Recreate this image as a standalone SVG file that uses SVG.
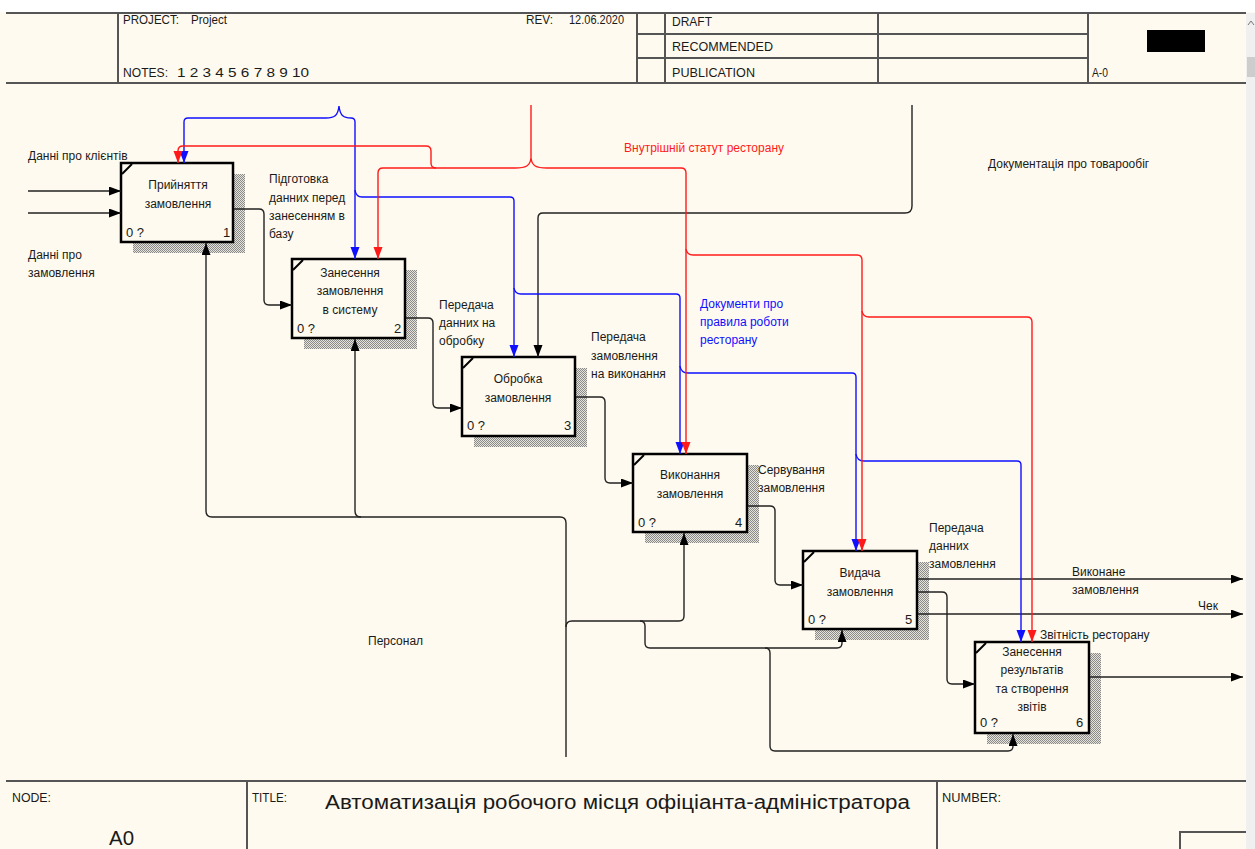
<svg xmlns="http://www.w3.org/2000/svg" width="1255" height="849" viewBox="0 0 1255 849">
<style>
text{font-family:"Liberation Sans",Arial,sans-serif;fill:#1a1a1a}
.hd{font-size:13px}
.ft{font-size:12px}
.lb{font-size:12px}
.bx{font-size:12px;text-anchor:middle}
.nm{font-size:13px}
.frame{stroke:#555;stroke-width:2;fill:none}
.box{fill:#FFFAEF;stroke:#000;stroke-width:2.5}
.tick{stroke:#000;stroke-width:2}
.k{fill:none;stroke:#222;stroke-width:1.4}
.r{fill:none;stroke:#FF1A1A;stroke-width:1.4}
.b{fill:none;stroke:#1010FF;stroke-width:1.4}
.ka{marker-end:url(#ak)}
.ra{marker-end:url(#ar)}
.ba{marker-end:url(#ab)}
</style>
<defs>
<pattern id="hatch" width="2" height="2" patternUnits="userSpaceOnUse">
<rect width="2" height="2" fill="#E6E3DA"/>
<rect width="1" height="1" fill="#8a8a8a"/>
<rect x="1" y="1" width="1" height="1" fill="#8a8a8a"/>
</pattern>
<marker id="ak" markerUnits="userSpaceOnUse" markerWidth="13" markerHeight="10" refX="12" refY="4.5" orient="auto"><path d="M0,0 L12,4.5 L0,9 z" fill="#000"/></marker>
<marker id="ar" markerUnits="userSpaceOnUse" markerWidth="13" markerHeight="10" refX="12" refY="4.5" orient="auto"><path d="M0,0 L12,4.5 L0,9 z" fill="#FF1A1A"/></marker>
<marker id="ab" markerUnits="userSpaceOnUse" markerWidth="13" markerHeight="10" refX="12" refY="4.5" orient="auto"><path d="M0,0 L12,4.5 L0,9 z" fill="#1010FF"/></marker>
</defs>

<rect width="1255" height="849" fill="#FFFAEF"/>
<rect width="1255" height="12" fill="#FFFFFF"/>

<g id="header">
<path class="frame" d="M6 13 H1246 M6 83 H1246 M118 13 V83 M637 13 V83 M665 13 V83 M878 13 V83 M1088 13 V83 M637 34 H1088 M637 58 H1088"/>
<text class="hd" x="123" y="24" textLength="56" lengthAdjust="spacingAndGlyphs">PROJECT:</text>
<text class="hd" x="191" y="24" textLength="36" lengthAdjust="spacingAndGlyphs">Project</text>
<text class="hd" x="526" y="24" textLength="27" lengthAdjust="spacingAndGlyphs">REV:</text>
<text class="hd" x="569" y="24" textLength="55" lengthAdjust="spacingAndGlyphs">12.06.2020</text>
<text class="hd" x="123" y="77" textLength="45" lengthAdjust="spacingAndGlyphs">NOTES:</text>
<text class="hd" x="177" y="77" textLength="132" lengthAdjust="spacingAndGlyphs">1 2 3 4 5 6 7 8 9 10</text>
<text class="hd" x="672" y="26" textLength="40" lengthAdjust="spacingAndGlyphs">DRAFT</text>
<text class="hd" x="672" y="51" textLength="101" lengthAdjust="spacingAndGlyphs">RECOMMENDED</text>
<text class="hd" x="672" y="77" textLength="83" lengthAdjust="spacingAndGlyphs">PUBLICATION</text>
<text class="hd" x="1092" y="77" textLength="16" lengthAdjust="spacingAndGlyphs">A-0</text>
<rect x="1147" y="30" width="58" height="22" fill="#000"/>
</g>

<g id="scrollbar">
<rect x="1246" y="13" width="9" height="836" fill="#F0F0F0"/>
<rect x="1247" y="57" width="8" height="20" fill="#CDCDCD"/>
<path d="M1248 25 L1251 21 L1254 25" fill="none" stroke="#777" stroke-width="1"/>
</g>

<g id="footer">
<path class="frame" d="M6 781 H1246 M247 781 V849 M937 781 V849 M1180 849 V832 H1246"/>
<text class="ft" x="12" y="802" textLength="39" lengthAdjust="spacingAndGlyphs">NODE:</text>
<text class="ft" x="252" y="802" textLength="35" lengthAdjust="spacingAndGlyphs">TITLE:</text>
<text class="ft" x="942" y="802" textLength="59" lengthAdjust="spacingAndGlyphs">NUMBER:</text>
<text x="109" y="845" font-size="20" textLength="25" lengthAdjust="spacingAndGlyphs">A0</text>
<text x="325" y="809" font-size="20" textLength="585" lengthAdjust="spacingAndGlyphs">Автоматизація робочого місця офіціанта-адміністратора</text>
</g>

<g id="node1">
<rect x="133" y="174" width="112" height="79" fill="url(#hatch)"/>
<rect class="box" x="121" y="163" width="112" height="79"/>
<path class="tick" d="M122 174 L132 164"/>
<text class="bx" x="178" y="189">Прийняття</text>
<text class="bx" x="178" y="208">замовлення</text>
<text class="nm" x="126" y="237">0 ?</text>
<text class="nm" x="223" y="237">1</text>
</g>

<g id="node2">
<rect x="304" y="270" width="113" height="79" fill="url(#hatch)"/>
<rect class="box" x="292" y="259" width="113" height="79"/>
<path class="tick" d="M293 270 L303 260"/>
<text class="bx" x="350" y="277">Занесення</text>
<text class="bx" x="350" y="295">замовлення</text>
<text class="bx" x="350" y="314">в систему</text>
<text class="nm" x="297" y="333">0 ?</text>
<text class="nm" x="394" y="333">2</text>
</g>

<g id="node3">
<rect x="474" y="368" width="113" height="79" fill="url(#hatch)"/>
<rect class="box" x="462" y="357" width="113" height="79"/>
<path class="tick" d="M463 368 L473 358"/>
<text class="bx" x="518" y="383">Обробка</text>
<text class="bx" x="518" y="402">замовлення</text>
<text class="nm" x="467" y="430">0 ?</text>
<text class="nm" x="564" y="430">3</text>
</g>

<g id="node4">
<rect x="645" y="465" width="114" height="78" fill="url(#hatch)"/>
<rect class="box" x="633" y="454" width="114" height="78"/>
<path class="tick" d="M634 465 L644 455"/>
<text class="bx" x="690" y="479">Виконання</text>
<text class="bx" x="690" y="498">замовлення</text>
<text class="nm" x="638" y="527">0 ?</text>
<text class="nm" x="735" y="527">4</text>
</g>

<g id="node5">
<rect x="815" y="562" width="114" height="78" fill="url(#hatch)"/>
<rect class="box" x="803" y="551" width="114" height="78"/>
<path class="tick" d="M804 562 L814 552"/>
<text class="bx" x="860" y="577">Видача</text>
<text class="bx" x="860" y="596">замовлення</text>
<text class="nm" x="808" y="624">0 ?</text>
<text class="nm" x="905" y="624">5</text>
</g>

<g id="node6">
<rect x="987" y="653" width="114" height="91" fill="url(#hatch)"/>
<rect class="box" x="975" y="642" width="114" height="91"/>
<path class="tick" d="M976 653 L986 643"/>
<text class="bx" x="1032" y="656">Занесення</text>
<text class="bx" x="1032" y="674">результатів</text>
<text class="bx" x="1032" y="693">та створення</text>
<text class="bx" x="1032" y="711">звітів</text>
<text class="nm" x="980" y="727">0 ?</text>
<text class="nm" x="1076" y="727">6</text>
</g>

<g id="connectors">
<path class="k ka" d="M28 191 H121"/>
<path class="k ka" d="M28 213 H121"/>
<path class="k ka" d="M234 209 H259 Q264 209 264 214 V300 Q264 305 269 305 H292"/>
<path class="k ka" d="M406 318 H428 Q433 318 433 323 V403 Q433 408 438 408 H462"/>
<path class="k ka" d="M576 397 H600 Q605 397 605 402 V478 Q605 483 610 483 H633"/>
<path class="k ka" d="M748 506 H770 Q775 506 775 511 V580 Q775 585 780 585 H803"/>
<path class="k ka" d="M918 592 H942 Q947 592 947 597 V679 Q947 684 952 684 H975"/>
<path class="k ka" d="M918 579 H1243"/>
<path class="k ka" d="M918 614 H1243"/>
<path class="k ka" d="M1090 677 H1243"/>
<path class="k ka" d="M912 105 V206 Q912 213 905 213 H543 Q538 213 538 218 V357"/>
<path class="k ka" d="M566 757 V523 Q566 517 560 517 H212 Q206 517 206 511 V243"/>
<path class="k ka" d="M361 517 Q355 517 355 511 V339"/>
<path class="k ka" d="M566 627 Q566 621 572 621 H679 Q684 621 684 616 V533"/>
<path class="k ka" d="M640 621 Q645 621 645 626 V643 Q645 648 650 648 H837 Q842 648 842 643 V630"/>
<path class="k ka" d="M765 648 Q770 648 770 653 V746 Q770 751 775 751 H1008 Q1013 751 1013 746 V734"/>
<path class="b ba" d="M326 118 H188 Q184 118 184 122 V163"/>
<path class="b" d="M326 118 C334 118 338 116 339 106 C340 116 344 118 351 118"/>
<path class="b ba" d="M351 118 Q355 118 355 122 V259"/>
<path class="b ba" d="M355 190 Q356 197 362 197 H510 Q514 197 514 201 V357"/>
<path class="b ba" d="M514 288 Q515 294 521 294 H676 Q680 294 680 298 V454"/>
<path class="b ba" d="M680 366 Q681 373 688 373 H852 Q856 373 856 377 V551"/>
<path class="b ba" d="M856 454 Q857 461 864 461 H1017 Q1021 461 1021 465 V642"/>
<path class="r" d="M531 105 V158"/>
<path class="r" d="M515 168 C526 168 530 166 531 158 C532 166 536 168 547 168"/>
<path class="r ra" d="M436 168 Q431 168 431 163 V151 Q431 146 426 146 H183 Q178 146 178 151 V163"/>
<path class="r ra" d="M515 168 H383 Q378 168 378 173 V259"/>
<path class="r ra" d="M547 168 H681 Q686 168 686 173 V454"/>
<path class="r ra" d="M686 249 Q687 255 693 255 H857 Q862 255 862 260 V551"/>
<path class="r ra" d="M862 311 Q863 317 869 317 H1027 Q1032 317 1032 322 V642"/>
</g>

<g id="labels">
<text class="lb" x="28" y="160">Данні про клієнтів</text>
<text class="lb" x="28" y="259">Данні про</text>
<text class="lb" x="28" y="277">замовлення</text>
<text class="lb" x="269" y="183">Підготовка</text>
<text class="lb" x="269" y="202">данних перед</text>
<text class="lb" x="269" y="220">занесенням в</text>
<text class="lb" x="269" y="238">базу</text>
<text class="lb" x="439" y="309">Передача</text>
<text class="lb" x="439" y="327">данних на</text>
<text class="lb" x="439" y="345">обробку</text>
<text class="lb" x="591" y="341">Передача</text>
<text class="lb" x="591" y="360">замовлення</text>
<text class="lb" x="591" y="378">на виконання</text>
<text class="lb" x="758" y="474">Сервування</text>
<text class="lb" x="758" y="492">замовлення</text>
<text class="lb" x="929" y="532">Передача</text>
<text class="lb" x="929" y="550">данних</text>
<text class="lb" x="929" y="568">замовлення</text>
<text class="lb" x="1072" y="576">Виконане</text>
<text class="lb" x="1072" y="594">замовлення</text>
<text class="lb" x="1198" y="610">Чек</text>
<text class="lb" x="1040" y="639">Звітність ресторану</text>
<text class="lb" x="988" y="168">Документація про товарообіг</text>
<text class="lb" x="368" y="645">Персонал</text>
<text class="lb" x="624" y="152" style="fill:#FF1A1A">Внутрішній статут ресторану</text>
<text class="lb" x="700" y="308" style="fill:#1010FF">Документи про</text>
<text class="lb" x="700" y="326" style="fill:#1010FF">правила роботи</text>
<text class="lb" x="700" y="344" style="fill:#1010FF">ресторану</text>
</g>
</svg>
